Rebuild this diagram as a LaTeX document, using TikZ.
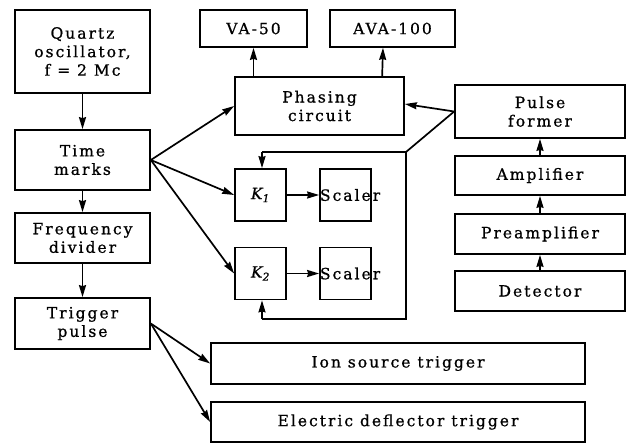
\documentclass[tikz,border=0pt]{standalone}
\usepackage{fontspec}
\setmainfont{DejaVu Serif}[LetterSpace=13, FakeBold=0.8]
\usetikzlibrary{positioning, arrows.meta}

\tikzset{
  blk/.style={draw, line width=1.7pt, align=center, inner sep=2pt,
    font=\fontsize{15.5}{18.5}\selectfont},
  link/.style={line width=1.7pt, -{Stealth[length=12pt, width=7pt, inset=1pt]}},
  wire/.style={line width=1.7pt}
}

\begin{document}
\begin{tikzpicture}[x=1pt, y=-1pt]
    \useasboundingbox (0,0) rectangle (630,444);

    % Left column
    \node[blk, minimum width=135pt, minimum height=83pt] (quartz) at (82.5,51.5) {Quartz\\oscillator,\\f = 2 Mc};
    \node[blk, minimum width=135pt, minimum height=60pt] (time) at (82.5,160) {Time\\marks};
    \node[blk, minimum width=135pt, minimum height=50pt] (freq) at (82.5,238) {Frequency\\divider};
    \node[blk, minimum width=135pt, minimum height=51pt] (trig) at (82.5,323.5) {Trigger\\pulse};

    % Top row
    \node[blk, minimum width=107pt, minimum height=37pt] (va) at (253.5,28.5) {VA-50};
    \node[blk, minimum width=125pt, minimum height=37pt] (ava) at (392.5,28.5) {AVA-100};
    \node[blk, minimum width=169pt, minimum height=58pt] (phase) at (319.5,106) {Phasing\\circuit};

    % Coincidence and scalers
    \node[blk, minimum width=51pt, minimum height=52pt] (k1) at (260.5,195) {\textit{K\textsubscript{1}}};
    \node[blk, minimum width=51pt, minimum height=52pt] (k2) at (260.5,273.5) {\textit{K\textsubscript{2}}};
    \node[blk, minimum width=51pt, minimum height=52pt] (sc1) at (345.5,195) {};
    \node[blk, minimum width=51pt, minimum height=52pt] (sc2) at (345.5,273.5) {};
    \node[blk, draw=none, anchor=west, inner sep=0pt] (sc1t) at (sc1.west) {Scaler};
    \node[blk, draw=none, anchor=west, inner sep=0pt] (sc2t) at (sc2.west) {Scaler};

    % Detector chain
    \node[blk, minimum width=170pt, minimum height=53pt] (pulse) at (540,111.5) {Pulse\\former};
    \node[blk, minimum width=170pt, minimum height=39pt] (amp) at (540,175.5) {Amplifier};
    \node[blk, minimum width=170pt, minimum height=40pt] (pre) at (540,234) {Preamplifier};
    \node[blk, minimum width=170pt, minimum height=40pt] (det) at (540,291) {Detector};

    % Triggers
    \node[blk, minimum width=374pt, minimum height=41pt] (ion) at (398,363.5) {Ion source trigger};
    \node[blk, minimum width=374pt, minimum height=40pt] (elec) at (398,422) {Electric deflector trigger};

    % Arrows
    \draw[link] (quartz) -- (time);
    \draw[link] (time) -- (freq);
    \draw[link] (freq) -- (trig);
    \draw[link] (time.east) -- (phase.west);
    \draw[link] (time.east) -- (k1.west);
    \draw[link] (time.east) -- (k2.west);
    \draw[link] (k1) -- (sc1);
    \draw[link] (k2) -- (sc2);
    \draw[link] (phase.north -| va) -- (va);
    \draw[link] (phase.north -| ava.south west) ++(53,0) -- (ava.south -| 383,0);
    \draw[link] (trig.east) -- (ion.west);
    \draw[link] (trig.east) -- (elec.west);
    \draw[link] (det) -- (pre);
    \draw[link] (pre) -- (amp);
    \draw[link] (amp) -- (pulse);

    % Feedback from pulse former
    \coordinate (tap) at (pulse.west);
    \coordinate (bend) at (406,152);
    \coordinate (top) at (262,152);
    \coordinate (bot) at (262,319);
    \draw[link] (tap) -- (phase.east |- 0,104);
    \draw[wire] (tap) -- (bend) -- (top);
    \draw[link] (top) -- (k1.north -| top);
    \draw[wire] (bend) -- (bend |- bot) -- (bot);
    \draw[link] (bot) -- (k2.south -| bot);
\end{tikzpicture}
\end{document}
